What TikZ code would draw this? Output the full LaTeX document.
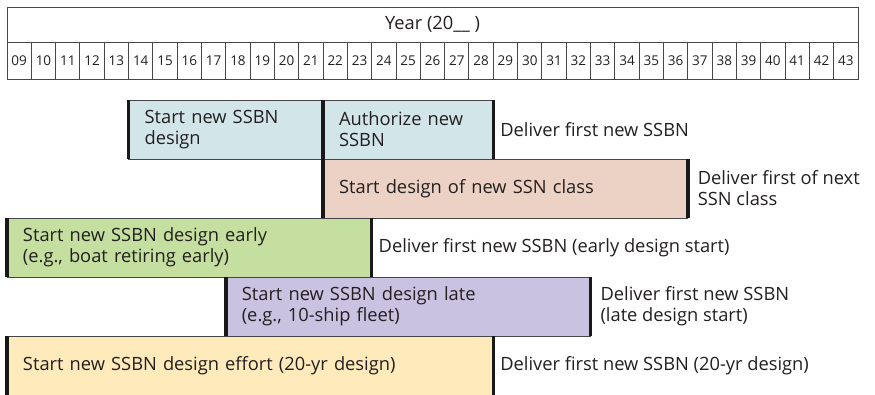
\documentclass[tikz,border=0pt]{standalone}
\usepackage{fontspec}
\setmainfont{Open Sans}
\usetikzlibrary{positioning}

\definecolor{ssbnblue}{RGB}{210,230,233}
\definecolor{ssnpink}{RGB}{235,210,197}
\definecolor{earlygreen}{RGB}{197,223,160}
\definecolor{latepurple}{RGB}{201,195,225}
\definecolor{effortyellow}{RGB}{254,234,186}
\definecolor{rulegray}{RGB}{70,70,70}
\definecolor{ink}{RGB}{35,31,32}

\def\yw{24.314}

\begin{document}
\begin{tikzpicture}[x=1pt,y=-1pt,node distance=7pt,
    every node/.style={text=ink,outer sep=0pt,font=\fontsize{18.3}{21}\selectfont},
    cell/.style={draw=rulegray,line width=1pt,minimum width=\yw pt,minimum height=37pt,
      inner sep=0pt,anchor=north west,font=\fontsize{13.5}{16}\selectfont},
    bar/.style={draw=rulegray,line width=0.8pt,minimum height=59pt,inner xsep=16pt,
      inner ysep=0pt,anchor=north west,align=left},
    endline/.style={draw=black!90,line width=3.5pt},
    deliver/.style={align=left,inner sep=0pt}]
    \useasboundingbox (0,0) rectangle (875,394);

    % year header
    \node[draw=rulegray,line width=1pt,minimum width={35*\yw pt},minimum height=34.5pt,
      inner sep=0pt,anchor=north west] (year) at (7,7.5) {Year (20\_\_ )};
    \foreach \n in {9,...,43} {
      \pgfmathtruncatemacro\i{\n-9}
      \node[cell] (c\n) at ({7+\i*\yw},42) {\ifnum\n<10 0\fi\n};
    }

    % bars
    \node[bar,fill=ssbnblue,text width=162.5pt] (design) at ({7+5*\yw},100) {Start new SSBN\\design};
    \node[bar,fill=ssbnblue,text width=138.2pt,right=0pt of design] (authorize) {Authorize new\\SSBN};
    \node[bar,fill=ssnpink,text width=332.7pt,below right=0pt and 0pt of authorize.south west] (ssn)
      {Start design of new SSN class};
    \node[bar,fill=earlygreen,text width=332.7pt] (early) at (7,218)
      {Start new SSBN design early\\(e.g., boat retiring early)};
    \node[bar,fill=latepurple,text width=332.7pt] (late) at ({7+9*\yw},277)
      {Start new SSBN design late\\(e.g., 10-ship fleet)};
    \node[bar,fill=effortyellow,text width=454.3pt] (effort) at (7,336)
      {Start new SSBN design effort (20-yr design)};

    \foreach \b in {design,authorize,ssn,early,late,effort}
      \draw[endline] (\b.north west) -- (\b.south west) (\b.north east) -- (\b.south east);

    % deliveries
    \node[deliver,right=of authorize] (d_first) {Deliver first new SSBN};
    \node[deliver,right=10pt of ssn] (d_ssn) {Deliver first of next\\SSN class};
    \node[deliver,right=of early] (d_early) {Deliver first new SSBN (early design start)};
    \node[deliver,right=10pt of late] (d_late) {Deliver first new SSBN\\(late design start)};
    \node[deliver,right=of effort] (d_effort) {Deliver first new SSBN (20-yr design)};
\end{tikzpicture}
\end{document}
